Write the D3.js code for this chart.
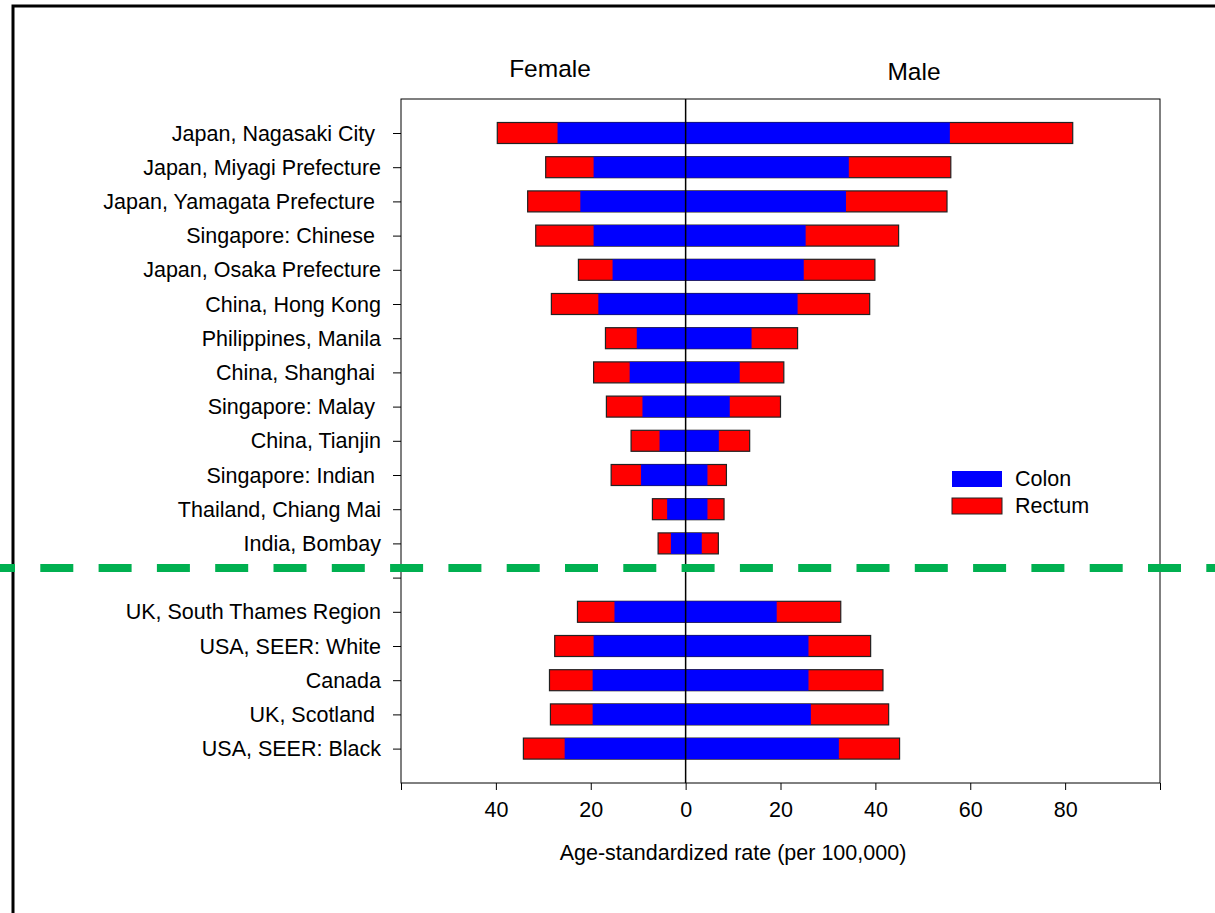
<!DOCTYPE html>
<html>
<head>
<meta charset="utf-8">
<script src="https://cdn.jsdelivr.net/npm/d3@7"></script>
<style>
  body { margin: 0; background: #fff; }
  svg { display: block; font-family: "Liberation Sans", Arial, sans-serif; }
  text { white-space: pre; }
</style>
</head>
<body>
<div class="chart"></div>
<script>
// registries, top to bottom ("" is the spacer row under the dashed line)
const registries = [
  "Japan, Nagasaki City ", "Japan, Miyagi Prefecture", "Japan, Yamagata Prefecture ",
  "Singapore: Chinese ", "Japan, Osaka Prefecture", "China, Hong Kong",
  "Philippines, Manila", "China, Shanghai ", "Singapore: Malay ", "China, Tianjin",
  "Singapore: Indian ", "Thailand, Chiang Mai", "India, Bombay", "",
  "UK, South Thames Region", "USA, SEER: White", "Canada", "UK, Scotland ", "USA, SEER: Black"
];
const femaleColon  = [27.0, 19.4, 22.2, 19.4, 15.4, 18.4, 10.3, 11.8, 9.1, 5.5, 9.4, 3.9, 3.1, null, 15.0, 19.4, 19.6, 19.6, 25.5];
const femaleRectum = [12.7, 10.1, 11.1, 12.2, 7.2, 9.9, 6.6, 7.6, 7.6, 6.0, 6.3, 3.1, 2.7, null, 7.8, 8.2, 9.1, 8.9, 8.7];
const maleColon    = [55.7, 34.4, 33.8, 25.3, 24.9, 23.6, 13.9, 11.4, 9.3, 7.0, 4.6, 4.6, 3.4, null, 19.2, 25.9, 25.9, 26.4, 32.3];
const maleRectum   = [25.9, 21.5, 21.3, 19.6, 15.0, 15.2, 9.7, 9.3, 10.7, 6.5, 4.0, 3.5, 3.5, null, 13.5, 13.1, 15.7, 16.4, 12.8];
const xTicks = [-60, -40, -20, 0, 20, 40, 60, 80, 100];
const legendItems = [{name: "Colon", color: "#0000ff"}, {name: "Rectum", color: "#ff0000"}];

const width = 1215, height = 913;
const plot = {left: 401, right: 1160, top: 99, bottom: 783};
const barH = 21;

const svg = d3.select(".chart").append("svg")
    .attr("width", width)
    .attr("height", height);

// outer frame (runs off the right and bottom edges)
svg.append("rect")
    .attr("x", 13).attr("y", 6)
    .attr("width", width + 20).attr("height", height + 20)
    .attr("fill", "none").attr("stroke", "#000").attr("stroke-width", 3);

const x = d3.scaleLinear().domain([-60, 100]).range([plot.left, plot.right]);
const y = d3.scalePoint().domain(registries).range([133, 748.6]);

const rows = registries.map((name, i) => ({
    name: name, fc: femaleColon[i], fr: femaleRectum[i], mc: maleColon[i], mr: maleRectum[i]
})).filter(d => d.fc !== null);

// plot box
svg.append("rect")
    .attr("x", plot.left).attr("y", plot.top)
    .attr("width", plot.right - plot.left).attr("height", plot.bottom - plot.top)
    .attr("fill", "none").attr("stroke", "#000").attr("stroke-width", 1);

// full bars in red (colon + rectum), then colon in blue over them
const bars = svg.append("g");
bars.selectAll(".rectum")
    .data(rows)
    .enter()
    .append("rect")
    .attr("x", d => x(-(d.fc + d.fr)))
    .attr("y", d => y(d.name) - barH / 2)
    .attr("width", d => x(d.mc + d.mr) - x(-(d.fc + d.fr)))
    .attr("height", barH)
    .attr("fill", "#ff0000")
    .attr("stroke", "#222")
    .attr("stroke-width", 1.2);

bars.selectAll(".colon")
    .data(rows)
    .enter()
    .append("rect")
    .attr("x", d => x(-d.fc))
    .attr("y", d => y(d.name) - barH / 2)
    .attr("width", d => x(d.mc) - x(-d.fc))
    .attr("height", barH)
    .attr("fill", "#0000ff");

// zero line
svg.append("line")
    .attr("x1", x(0)).attr("x2", x(0))
    .attr("y1", plot.top).attr("y2", plot.bottom)
    .attr("stroke", "#000").attr("stroke-width", 1.5);

// axes
const yAxis = svg.append("g")
    .attr("transform", "translate(" + plot.left + ",0)")
    .call(d3.axisLeft(y).tickSize(8).tickSizeOuter(0).tickPadding(12));
yAxis.select(".domain").remove();
yAxis.selectAll("text").attr("font-size", "21.5px").attr("fill", "#000").attr("dy", "0.33em");

const xAxis = svg.append("g")
    .attr("transform", "translate(0," + plot.bottom + ")")
    .call(d3.axisBottom(x).tickValues(xTicks).tickSize(7).tickSizeOuter(0).tickPadding(12)
        .tickFormat(d => (d === -60 || d === 100) ? "" : Math.abs(d)));
xAxis.select(".domain").remove();
xAxis.selectAll("text").attr("font-size", "21.5px").attr("fill", "#000");

// titles
svg.append("text").attr("x", 550).attr("y", 77).attr("text-anchor", "middle")
    .attr("font-size", "24.5px").text("Female");
svg.append("text").attr("x", 914).attr("y", 80).attr("text-anchor", "middle")
    .attr("font-size", "24.5px").text("Male");
svg.append("text").attr("x", 733).attr("y", 860).attr("text-anchor", "middle")
    .attr("font-size", "21.5px").text("Age-standardized rate (per 100,000)");

// legend
const legend = svg.selectAll(".legend")
    .data(legendItems)
    .enter()
    .append("g")
    .attr("transform", (d, i) => "translate(952," + (471 + i * 27) + ")");
legend.append("rect")
    .attr("width", 50).attr("height", 16)
    .attr("fill", d => d.color)
    .attr("stroke", d => d.name === "Rectum" ? "#222" : "none");
legend.append("text")
    .attr("x", 63).attr("y", 15)
    .attr("font-size", "21.5px")
    .text(d => d.name);

// green dashed separator
svg.append("line")
    .attr("x1", -18).attr("x2", width + 40)
    .attr("y1", 568).attr("y2", 568)
    .attr("stroke", "#00b050").attr("stroke-width", 8)
    .attr("stroke-dasharray", "33,25.3");
</script>
</body>
</html>
